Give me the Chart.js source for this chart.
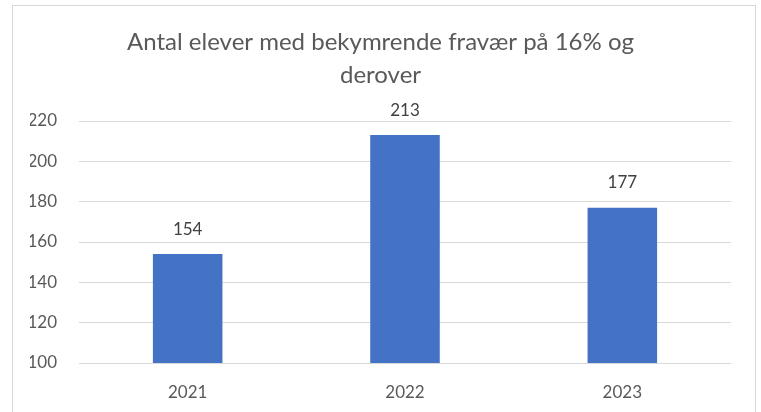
<!DOCTYPE html>
<html>
<head>
<meta charset="utf-8">
<script src="https://cdn.jsdelivr.net/npm/chart.js@4/dist/chart.umd.min.js"></script>
<style>
  html, body { margin: 0; padding: 0; background: #fff; }
  #wrap { position: relative; width: 761px; height: 412px; }
</style>
</head>
<body>
<div id="wrap"><canvas id="chart"></canvas></div>
<script>
const years = ["2021", "2022", "2023"];
const students = [154, 213, 177];
const titleLines = ["Antal elever med bekymrende fravær på 16% og", "derover"];

const textColor = "#595959";

// outer frame like the Excel chart area
const framePlugin = {
    id: "frame",
    beforeDraw(chart) {
        const ctx = chart.ctx;
        ctx.save();
        ctx.fillStyle = "#fff";
        ctx.fillRect(0, 0, chart.width, chart.height);
        ctx.strokeStyle = "#d9d9d9";
        ctx.lineWidth = 1;
        ctx.strokeRect(12.5, 5.5, 743, 420);
        ctx.restore();
    }
};

// value labels above the bars
const valueLabels = {
    id: "valueLabels",
    afterDatasetsDraw(chart) {
        const ctx = chart.ctx;
        const meta = chart.getDatasetMeta(0);
        ctx.save();
        ctx.font = "17px Lato";
        ctx.fillStyle = "#404040";
        ctx.textAlign = "center";
        ctx.textBaseline = "middle";
        meta.data.forEach((bar, i) => {
            ctx.fillText(chart.data.datasets[0].data[i], bar.x, bar.y - 25);
        });
        ctx.restore();
    }
};

new Chart(document.getElementById("chart"), {
    type: "bar",
    data: {
        labels: years,
        datasets: [{
            data: students,
            backgroundColor: "#4472c4",
            borderWidth: 0,
            categoryPercentage: 1,
            barPercentage: 0.32,
        }],
    },
    options: {
        responsive: true,
        maintainAspectRatio: false,
        animation: false,
        layout: { padding: { left: 30, right: 30, top: 0, bottom: 0 } },
        plugins: {
            legend: { display: false },
            tooltip: { enabled: false },
            title: {
                display: true,
                text: titleLines,
                color: textColor,
                font: { family: "Lato", size: 24, weight: "normal", lineHeight: 1.375 },
                padding: { top: 25.5, bottom: 29.5 },
            },
        },
        scales: {
            x: {
                grid: { display: false, drawTicks: false },
                border: { display: false },
                ticks: { color: textColor, font: { family: "Lato", size: 17 }, padding: 19 },
                afterFit(scale) { scale.height = 49; },
            },
            y: {
                min: 100,
                max: 220,
                ticks: { stepSize: 20, color: textColor, font: { family: "Lato", size: 17 }, padding: 22 },
                grid: { color: "#d9d9d9", drawTicks: false },
                border: { display: false },
                afterFit(scale) { scale.width = 49; },
            },
        },
    },
    plugins: [framePlugin, valueLabels],
});
</script>
</body>
</html>
